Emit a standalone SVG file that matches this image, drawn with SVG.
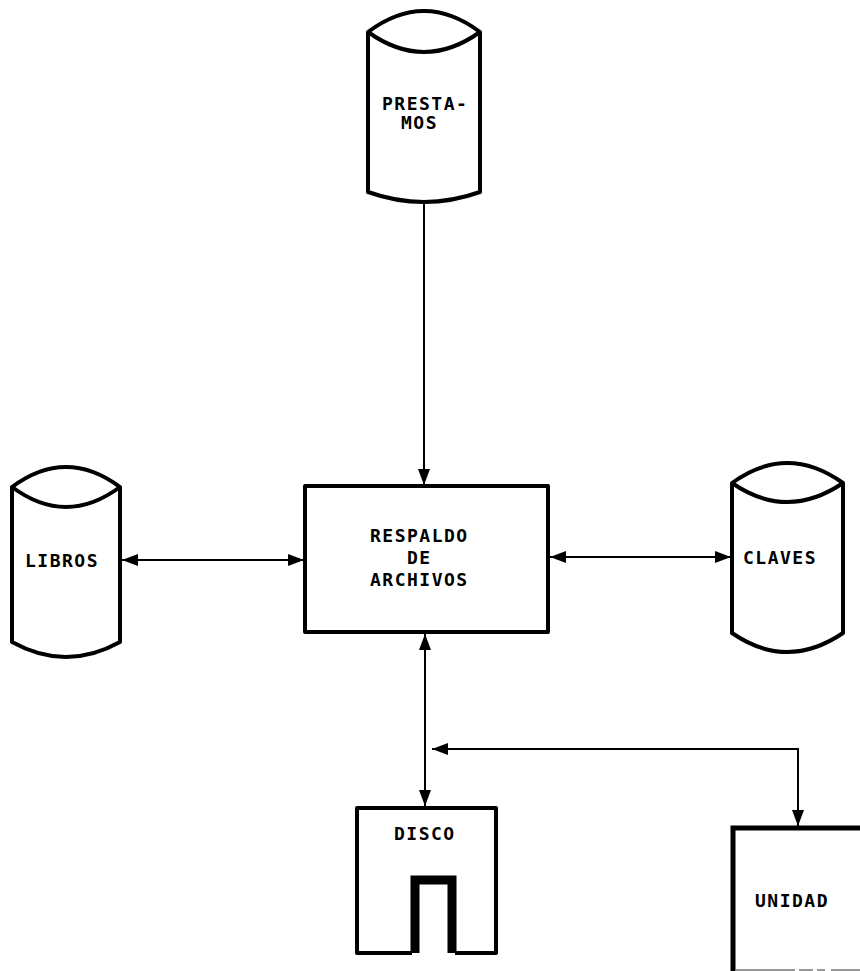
<svg xmlns="http://www.w3.org/2000/svg" width="860" height="971" viewBox="0 0 860 971">
<style>
.bg{fill:#fff}
.shape{fill:#fff;stroke:#000;stroke-width:4;stroke-linejoin:round}
.conn{fill:none;stroke:#000;stroke-width:2}
.lbl{font-family:"DejaVu Sans Mono","Liberation Mono",monospace;font-weight:bold;font-size:18px;letter-spacing:1.5px;fill:#000}
</style>
<defs>
<marker id="arr" viewBox="0 0 16 12" refX="16" refY="6" markerWidth="16" markerHeight="12" markerUnits="userSpaceOnUse" orient="auto-start-reverse">
<path d="M0,0 L16,6 L0,12 z" fill="#000"/>
</marker>
</defs>
<rect class="bg" x="0" y="0" width="860" height="971"/>

<g id="connectors">
<line class="conn" x1="424" y1="203" x2="424" y2="485" marker-end="url(#arr)"/>
<line class="conn" x1="122" y1="560" x2="304" y2="560" marker-start="url(#arr)" marker-end="url(#arr)"/>
<line class="conn" x1="550" y1="557" x2="731" y2="557" marker-start="url(#arr)" marker-end="url(#arr)"/>
<line class="conn" x1="425" y1="634" x2="425" y2="806" marker-start="url(#arr)" marker-end="url(#arr)"/>
<path class="conn" d="M432,749 H798 V826" marker-start="url(#arr)" marker-end="url(#arr)"/>
</g>

<g id="prestamos">
<path class="shape" d="M368,32 Q424,-10 480,32 V192 Q424,212 368,192 Z"/>
<path class="shape" d="M368,32 Q424,72 480,32"/>
<text class="lbl" x="382" y="110">PRESTA-</text>
<text class="lbl" x="401" y="129">MOS</text>
</g>

<g id="libros">
<path class="shape" d="M12,487 Q66,447 120,487 V642 Q66,672 12,642 Z"/>
<path class="shape" d="M12,487 Q66,527 120,487"/>
<text class="lbl" x="25" y="567">LIBROS</text>
</g>

<g id="respaldo">
<rect class="shape" x="305" y="486" width="243" height="146"/>
<text class="lbl" x="370" y="542">RESPALDO</text>
<text class="lbl" x="407" y="564">DE</text>
<text class="lbl" x="370" y="586">ARCHIVOS</text>
</g>

<g id="claves">
<path class="shape" d="M732,483 Q787,443 843,483 V633 Q787,671 732,633 Z"/>
<path class="shape" d="M732,483 Q787,521 843,483"/>
<text class="lbl" x="743" y="564">CLAVES</text>
</g>

<g id="disco">
<path class="shape" d="M412,953 H357 V808 H496 V953 H455"/>
<path d="M415,953 V880 H452 V953" fill="none" stroke="#000" stroke-width="9" stroke-linejoin="miter"/>
<text class="lbl" x="394" y="840">DISCO</text>
</g>

<g id="unidad">
<path d="M733,971 V828 H862" fill="none" stroke="#000" stroke-width="5"/>
<line x1="735" y1="970" x2="860" y2="970" stroke="#777" stroke-width="1.5" stroke-dasharray="60,4,14,4,8,6"/>
<text class="lbl" x="755" y="907">UNIDAD</text>
</g>
</svg>
